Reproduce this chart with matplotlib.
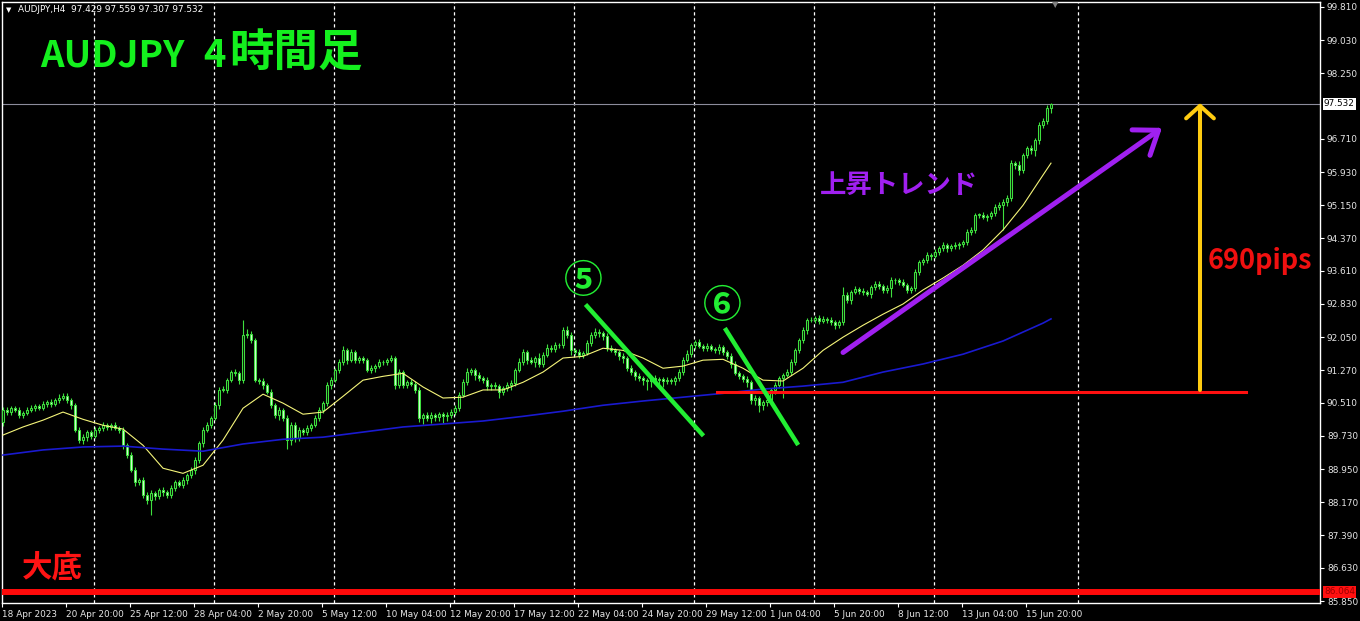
import numpy as np
import matplotlib.pyplot as plt
import matplotlib.transforms as mtransforms

plt.rcParams['font.family'] = ['Noto Sans CJK JP', 'DejaVu Sans']

# AUDJPY H4 candles (closes), first open separately
first_open = 90.05
closes = [
    90.34, 90.29, 90.38, 90.34, 90.22, 90.26, 90.34, 90.38, 90.43, 90.38,
    90.48, 90.52, 90.48, 90.57, 90.62, 90.66, 90.57, 90.45, 89.87, 89.63,
    89.70, 89.82, 89.72, 89.87, 89.91, 89.98, 89.94, 89.98, 89.91, 89.87,
    89.51, 89.28, 88.93, 88.64, 88.69, 88.34, 88.22, 88.38, 88.31, 88.46,
    88.41, 88.34, 88.50, 88.64, 88.57, 88.69, 88.81, 88.93, 89.16, 89.56,
    89.87, 89.98, 90.15, 90.45, 90.81, 90.81, 91.04, 91.23, 91.20, 91.04,
    92.10, 92.12, 91.98, 91.04, 91.02, 90.92, 90.76, 90.45, 90.22, 90.34,
    90.15, 89.63, 89.98, 89.68, 89.87, 89.82, 89.91, 89.98, 90.15, 90.34,
    90.50, 90.92, 91.04, 91.27, 91.46, 91.74, 91.51, 91.70, 91.51, 91.55,
    91.51, 91.27, 91.32, 91.37, 91.46, 91.46, 91.51, 91.55, 90.92, 91.23,
    90.92, 90.99, 90.95, 90.81, 90.15, 90.22, 90.15, 90.22, 90.17, 90.24,
    90.19, 90.22, 90.29, 90.38, 90.69, 90.99, 91.23, 91.27, 91.16, 91.08,
    91.04, 90.90, 90.92, 90.90, 90.76, 90.85, 90.92, 90.97, 91.27, 91.46,
    91.70, 91.51, 91.46, 91.55, 91.41, 91.63, 91.79, 91.77, 91.86, 91.86,
    92.21, 92.10, 91.74, 91.70, 91.63, 91.67, 91.91, 92.10, 92.17, 92.14,
    92.07, 91.79, 91.74, 91.70, 91.60, 91.55, 91.32, 91.23, 91.13, 91.08,
    91.04, 91.02, 91.08, 91.04, 91.06, 91.02, 91.04, 91.02, 91.08, 91.23,
    91.51, 91.65, 91.86, 91.93, 91.84, 91.79, 91.84, 91.77, 91.74, 91.81,
    91.70, 91.60, 91.41, 91.20, 91.13, 91.06, 90.99, 90.57, 90.62, 90.45,
    90.52, 90.57, 90.81, 90.92, 91.08, 91.16, 91.23, 91.46, 91.74, 91.98,
    92.21, 92.45, 92.45, 92.50, 92.43, 92.47, 92.45, 92.40, 92.33, 92.40,
    93.04, 92.92, 93.11, 93.18, 93.13, 93.11, 93.06, 93.23, 93.30, 93.25,
    93.16, 93.20, 93.39, 93.39, 93.34, 93.27, 93.16, 93.20, 93.58, 93.81,
    93.86, 93.98, 93.95, 94.05, 94.14, 94.21, 94.14, 94.19, 94.21, 94.24,
    94.28, 94.52, 94.57, 94.92, 94.92, 94.87, 94.89, 94.96, 95.11, 95.15,
    95.22, 95.32, 96.14, 96.10, 95.98, 96.33, 96.50, 96.45, 96.68, 97.03,
    97.13, 97.43, 97.532,
]
# wick lengths above/below the body, in 0.01 yen
wick_up = [
    6, 8, 5, 6, 8, 5, 6, 7, 5, 6,
    6, 5, 8, 6, 10, 7, 8, 6, 5, 6,
    8, 6, 5, 7, 6, 8, 6, 5, 7, 6,
    6, 5, 8, 6, 5, 7, 6, 8, 6, 5,
    7, 6, 8, 5, 6, 7, 5, 6, 8, 6,
    6, 8, 5, 7, 6, 10, 5, 6, 8, 5,
    35, 12, 8, 6, 5, 7, 6, 8, 5, 6,
    5, 6, 8, 7, 6, 5, 8, 6, 7, 6,
    6, 8, 7, 6, 8, 10, 6, 8, 6, 5,
    5, 6, 8, 5, 7, 6, 5, 8, 6, 7,
    6, 5, 7, 6, 8, 5, 6, 7, 5, 6,
    5, 6, 8, 7, 6, 8, 10, 6, 5, 7,
    6, 7, 5, 8, 6, 5, 7, 8, 6, 10,
    8, 6, 7, 5, 12, 6, 10, 7, 8, 6,
    8, 10, 6, 5, 7, 6, 8, 6, 10, 7,
    6, 8, 7, 5, 6, 7, 5, 8, 6, 7,
    6, 5, 8, 7, 6, 5, 7, 6, 5, 8,
    8, 10, 6, 5, 7, 6, 8, 5, 6, 7,
    6, 5, 7, 8, 6, 5, 7, 6, 8, 5,
    6, 8, 5, 7, 6, 5, 7, 8, 6, 5,
    8, 6, 7, 5, 6, 8, 5, 7, 6, 5,
    20, 8, 6, 7, 5, 8, 6, 5, 7, 6,
    6, 7, 8, 6, 5, 7, 6, 5, 8, 6,
    6, 8, 5, 7, 6, 8, 5, 6, 7, 5,
    6, 8, 7, 5, 6, 7, 5, 6, 8, 7,
    8, 6, 7, 6, 8, 6, 5, 7, 6, 8,
    6, 8, 3,
]
wick_dn = [
    8, 6, 7, 5, 6, 8, 5, 6, 7, 5,
    5, 7, 6, 5, 6, 5, 6, 8, 6, 7,
    9, 8, 6, 5, 7, 6, 8, 6, 5, 7,
    8, 7, 6, 9, 6, 8, 10, 35, 8, 7,
    10, 8, 6, 7, 5, 6, 8, 6, 10, 7,
    8, 6, 7, 5, 8, 6, 7, 5, 6, 8,
    6, 8, 7, 5, 6, 8, 5, 7, 6, 12,
    8, 20, 12, 10, 6, 8, 7, 6, 5, 8,
    7, 6, 8, 5, 7, 6, 8, 5, 7, 6,
    6, 5, 7, 8, 5, 6, 7, 5, 8, 6,
    7, 6, 5, 8, 10, 15, 8, 12, 10, 8,
    15, 12, 8, 6, 7, 5, 6, 8, 12, 6,
    7, 8, 10, 6, 14, 8, 6, 10, 7, 5,
    6, 8, 5, 12, 7, 6, 5, 8, 6, 7,
    6, 8, 10, 7, 6, 8, 5, 7, 6, 8,
    8, 6, 5, 7, 8, 10, 6, 8, 9, 7,
    12, 20, 14, 8, 10, 15, 7, 8, 10, 6,
    6, 5, 7, 8, 5, 6, 7, 5, 6, 8,
    7, 6, 8, 5, 7, 6, 10, 8, 12, 15,
    12, 8, 10, 10, 6, 45, 5, 8, 6, 7,
    6, 8, 5, 7, 6, 5, 7, 6, 8, 7,
    6, 7, 8, 5, 6, 7, 5, 8, 6, 7,
    7, 6, 20, 8, 6, 5, 7, 8, 6, 7,
    7, 6, 8, 5, 7, 6, 8, 7, 6, 8,
    7, 6, 8, 7, 6, 5, 8, 6, 7, 6,
    58, 8, 6, 10, 12, 7, 6, 10, 15, 8,
    7, 8, 12,
]

# moving averages (bar index, value)
ma_fast_idx = list(range(0, 261, 5)) + [262]
ma_fast = [
    89.75, 89.94, 90.10, 90.29, 90.12, 89.98, 89.89, 89.51, 88.97, 88.85,
    89.04, 89.63, 90.38, 90.71, 90.50, 90.24, 90.29, 90.66, 91.04, 91.13,
    91.20, 90.88, 90.62, 90.64, 90.81, 90.81, 90.99, 91.23, 91.56, 91.60,
    91.79, 91.74, 91.56, 91.32, 91.37, 91.51, 91.53, 91.32, 91.04, 91.02,
    91.32, 91.74, 92.05, 92.33, 92.59, 92.83, 93.16, 93.44, 93.74, 94.10,
    94.57, 95.15, 95.86, 96.14,
]
ma_slow_idx = list(range(0, 261, 10)) + [262]
ma_slow = [
    89.28, 89.40, 89.47, 89.49, 89.42, 89.37, 89.54, 89.65, 89.70, 89.82,
    89.94, 90.01, 90.08, 90.19, 90.31, 90.45, 90.55, 90.64, 90.73, 90.83,
    90.90, 90.99, 91.23, 91.42, 91.65, 91.96, 92.38, 92.48,
]

price_ticks = [99.81, 99.03, 98.25, 96.71, 95.93, 95.15, 94.37, 93.61, 92.83,
               92.05, 91.27, 90.51, 89.73, 88.95, 88.17, 87.39, 86.63, 85.85]
date_labels = ["18 Apr 2023", "20 Apr 20:00", "25 Apr 12:00", "28 Apr 04:00",
               "2 May 20:00", "5 May 12:00", "10 May 04:00", "12 May 20:00",
               "17 May 12:00", "22 May 04:00", "24 May 20:00", "29 May 12:00",
               "1 Jun 04:00", "5 Jun 20:00", "8 Jun 12:00", "13 Jun 04:00",
               "15 Jun 20:00"]
last_price = 97.532
bottom_price = 86.064
neckline = 90.76

lime = '#3ee03e'
fig = plt.figure(figsize=(13.6, 6.21), dpi=100, facecolor='black')
ax = fig.add_axes([2 / 1360, 18 / 621, 1318 / 1360, 601 / 621], facecolor='black')

# weekly grid
for gx in [22.75, 52.75, 82.75, 112.75, 142.75, 172.75, 202.75, 232.75, 268.75]:
    ax.axvline(gx, color='white', lw=0.9, dashes=(2.6, 2.2), zorder=1)

# candles
c = np.array(closes)
o = np.r_[first_open, c[:-1]]
idx = np.arange(len(c))
hi = np.maximum(o, c) + np.array(wick_up) / 100
lo = np.minimum(o, c) - np.array(wick_dn) / 100
bull = c >= o
ax.vlines(idx, lo, hi, color=lime, lw=0.8, zorder=3)
ax.bar(idx, np.maximum(np.abs(c - o), 0.015), bottom=np.minimum(o, c), width=0.62,
       color=np.where(bull, '#0a1a0a', '#d4f8d4'), edgecolor=lime, linewidth=0.75, zorder=4)

ax.plot(ma_fast_idx, ma_fast, color='#f5f57a', lw=0.8, zorder=5)
ax.plot(ma_slow_idx, ma_slow, color='#1a1ad0', lw=1.2, zorder=5)

# price lines
ax.axhline(last_price, color='#8c8c9c', lw=0.8, zorder=2)
ax.axhline(bottom_price, color='#ff0a0a', lw=4.3, zorder=6)
ax.plot([178.5, 310.75], [neckline, neckline], color='#ff1010', lw=2.2, zorder=6)

# drawn objects
ax.plot([146, 174.75], [92.78, 89.77], color='#22ee33', lw=3.2, zorder=7)
ax.plot([180.75, 198.5], [92.22, 89.56], color='#22ee33', lw=3.2, zorder=7)
ax.annotate('', xy=(289.75, 96.97), xytext=(210, 91.69),
            arrowprops=dict(arrowstyle='->,head_length=0.55,head_width=0.4',
                            color='#a020f0', lw=3.6, mutation_scale=28,
                            shrinkA=0, shrinkB=0), zorder=7)
ax.annotate('', xy=(299.25, 97.55), xytext=(299.25, 90.81),
            arrowprops=dict(arrowstyle='->,head_length=0.45,head_width=0.5',
                            color='#ffcc11', lw=2.9, mutation_scale=20,
                            shrinkA=0, shrinkB=0), zorder=7)

title_kw = dict(color='#14f01e', fontweight='bold', va='baseline', ha='left', zorder=8)
ax.text(9.25, 98.40, 'AUDJPY', fontsize=26.5, **title_kw)
ax.text(50, 98.40, '4', fontsize=27.5, **title_kw)
ax.text(56.5, 98.40, '時間足', fontsize=32, **title_kw)
ax.text(4.75, 86.63, '大底', color='#ff1414', fontsize=22, fontweight='bold',
        va='center', ha='left', zorder=8)
ax.text(204.25, 95.62, '上昇トレンド', color='#a020f0', fontsize=19,
        fontweight='bold', va='center', ha='left', zorder=8)
ax.text(301.25, 93.84, '690pips', color='#f01010', fontsize=19.5,
        fontweight='bold', va='center', ha='left', zorder=8)
ax.text(145, 93.36, '⑤', color='#22ee33', fontsize=28, fontweight='bold',
        va='center', ha='center', zorder=8)
ax.text(179.75, 92.77, '⑥', color='#22ee33', fontsize=28, fontweight='bold',
        va='center', ha='center', zorder=8)

# axes styling
ax.set_xlim(-0.25, 329.25)
ax.set_ylim(85.803, 99.927)
for s in ax.spines.values():
    s.set_color('white')
    s.set_linewidth(1)
ax.yaxis.tick_right()
ax.set_yticks(price_ticks)
ax.set_yticklabels([f'{v:.3f}' for v in price_ticks])
ax.set_xticks([16 * k - 0.25 for k in range(len(date_labels))])
ax.set_xticklabels(date_labels)
for lab in ax.get_xticklabels():
    lab.set_ha('left')
ax.tick_params(colors='white', labelcolor='#e6e6e6', labelsize=6.4, length=3, width=0.8, pad=2)
for lab in ax.get_xticklabels() + ax.get_yticklabels():
    lab.set_family('DejaVu Sans')

# price labels on the scale
trans = mtransforms.blended_transform_factory(ax.transAxes, ax.transData)
ax.text(1.003, last_price, f'{last_price:.3f}', transform=trans, fontsize=6.4,
        family='DejaVu Sans', color='black', va='center', ha='left', clip_on=False,
        bbox=dict(boxstyle='square,pad=0.15', fc='white', ec='none'))
ax.text(1.003, bottom_price, f'{bottom_price:.3f}', transform=trans, fontsize=6.4,
        family='DejaVu Sans', color='#9a0000', va='center', ha='left', clip_on=False,
        bbox=dict(boxstyle='square,pad=0.15', fc='#ff1010', ec='none'))

# header
fig.text(6 / 1360, 1 - 10 / 621, '▼', color='white', fontsize=5, family='DejaVu Sans', va='center')
fig.text(18 / 1360, 1 - 10 / 621, 'AUDJPY,H4  97.429 97.559 97.307 97.532', color='white',
         fontsize=6.4, family='DejaVu Sans', va='center')
fig.text(1055 / 1360, 1 - 5 / 621, '▼', color='#808080', fontsize=6, family='DejaVu Sans',
         va='center', ha='center')

fig.savefig('out.png', dpi=100, facecolor='black')
